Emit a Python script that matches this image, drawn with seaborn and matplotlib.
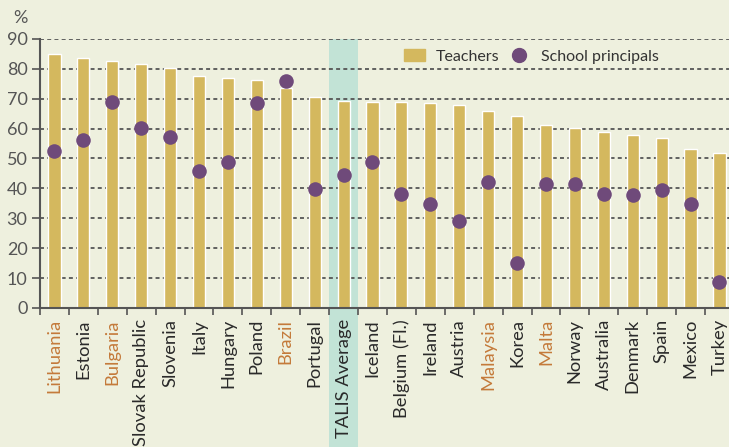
import pandas as pd
import matplotlib.pyplot as plt
import seaborn as sns
from matplotlib.patches import Rectangle
from matplotlib.lines import Line2D
from matplotlib.patches import Patch

# -------------------------------
# Data
# -------------------------------
countries = ["Lithuania", "Estonia", "Bulgaria", "Slovak Republic", "Slovenia",
             "Italy", "Hungary", "Poland", "Brazil", "Portugal", "TALIS Average",
             "Iceland", "Belgium (Fl.)", "Ireland", "Austria", "Malaysia", "Korea",
             "Malta", "Norway", "Australia", "Denmark", "Spain", "Mexico", "Turkey"]
teachers = [84.8, 83.6, 82.6, 81.6, 80.3, 77.6, 76.8, 76.1, 73.6, 70.6, 69.2,
            69.0, 68.8, 68.5, 67.8, 65.9, 64.3, 61.2, 60.2, 59.0, 58.0, 56.9,
            53.1, 51.8]
principals = [52.5, 56.3, 68.9, 60.2, 57.3, 45.7, 48.9, 68.7, 75.9, 39.9, 44.5,
              48.9, 38.1, 34.8, 29.1, 42.2, 14.9, 41.4, 41.4, 38.1, 37.7, 39.6,
              34.7, 8.7]
orange_labels = ["Lithuania", "Bulgaria", "Brazil", "Malaysia", "Malta"]
highlight = "TALIS Average"

df = pd.DataFrame({"Country": countries, "Teachers": teachers,
                   "School principals": principals})

# colours
bg = "#EEF0DE"
bar_col = "#D4B85E"
dot_col = "#6F4A7A"
band_col = "#C2E3D6"
orange = "#C47A3A"
ink = "#555555"

sns.set_style("white")
plt.rcParams["font.family"] = ["Lato", "DejaVu Sans"]

fig = plt.figure(figsize=(7.29, 4.47), dpi=100, facecolor=bg)
ax = fig.add_axes([0.0549, 0.311, 0.9518, 0.602])
ax.set_facecolor(bg)

# -------------------------------
# Highlight band for TALIS average
# -------------------------------
hi = countries.index(highlight)
ax.add_patch(Rectangle((hi - 0.5, -60), 1, 150, color=band_col, zorder=0,
                       clip_on=False, lw=0))

# grid
for v in range(10, 100, 10):
    ax.axhline(v, color=ink, lw=1.3, ls=(0, (2.2, 1.8)), zorder=1)

sns.barplot(data=df, x="Country", y="Teachers", color=bar_col, width=0.42,
            saturation=1, ax=ax, zorder=2)
sns.stripplot(data=df, x="Country", y="School principals", color=dot_col,
              jitter=False, size=10.5, ax=ax, zorder=3, linewidth=0)

ax.set_xlim(-0.5, len(countries) - 0.5)
ax.set_ylim(0, 90)
ax.set_yticks(range(0, 100, 10))
ax.set_xlabel("")
ax.set_ylabel("")

for s in ["top", "right"]:
    ax.spines[s].set_visible(False)
for s in ["left", "bottom"]:
    ax.spines[s].set_color(ink)
    ax.spines[s].set_linewidth(1.5)

ax.tick_params(axis="y", direction="out", length=6, width=1.2, color=ink,
               labelcolor=ink, labelsize=13, pad=3, left=True)
ax.tick_params(axis="x", which="major", length=0, labelsize=13.2, pad=8,
               rotation=90)
ax.set_xticks([i - 0.5 for i in range(len(countries) + 1)], minor=True)
ax.tick_params(axis="x", which="minor", direction="out", length=5, width=1.2,
               color=ink, bottom=True)

for lab in ax.get_xticklabels():
    lab.set_color(orange if lab.get_text() in orange_labels else "#2a2a2a")
    lab.set_va("top")

fig.text(20 / 729, 1 - 18 / 447, "%", color=ink, fontsize=13,
         ha="center", va="center")

# legend
handles = [Patch(color=bar_col, label="Teachers"),
           Line2D([], [], marker="o", ls="", color=dot_col, markersize=10,
                  label="School principals")]
ax.legend(handles=handles, loc="center left", bbox_to_anchor=(0.513, 0.935),
          ncol=2, frameon=False, fontsize=11.5, handlelength=1.3,
          handleheight=0.8, handletextpad=0.7, columnspacing=0.6,
          labelcolor="#333333", borderpad=0)

fig.savefig("out.png", dpi=100, facecolor=bg)
